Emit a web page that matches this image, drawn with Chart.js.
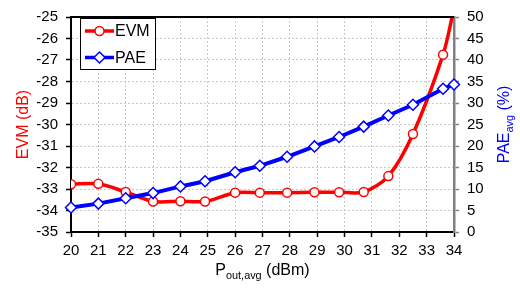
<!DOCTYPE html>
<html>
<head>
<meta charset="utf-8">
<script src="https://cdn.jsdelivr.net/npm/chart.js@4.4.0/dist/chart.umd.min.js"></script>
<style>
  html, body { margin: 0; padding: 0; background: #fff; }
  #wrap { width: 520px; height: 288px; }
</style>
</head>
<body>
<div id="wrap"><canvas id="myChart" width="520" height="288"></canvas></div>
<script>
var pout = [20, 21, 22, 23, 24, 24.9, 26, 26.9, 27.9, 28.9, 29.8, 30.7, 31.6, 32.5, 33.6, 34];
var evm  = [-32.78, -32.76, -33.14, -33.58, -33.57, -33.58, -33.17, -33.17, -33.17, -33.15, -33.15, -33.14, -32.4, -30.44, -26.75, -24.6];
var pae  = [5.7, 6.6, 7.85, 9.05, 10.6, 11.8, 13.9, 15.4, 17.5, 19.9, 22.1, 24.5, 27.1, 29.6, 33.3, 34.3];
var seriesNames = ["EVM", "PAE"];

var FONT = "'Liberation Sans', Arial, sans-serif";

function xy(xs, ys) {
  return xs.map(function (x, i) { return {x: x, y: ys[i]}; });
}

// draw text with a subscript part, centred at (0,0) in the current transform
function subText(ctx, parts, size) {
  var w = 0;
  parts.forEach(function (p) {
    ctx.font = (p.sub ? size * 0.68 : size) + "px " + FONT;
    p.w = ctx.measureText(p.t).width;
    w += p.w;
  });
  var x = -w / 2;
  ctx.textBaseline = "middle";
  ctx.textAlign = "left";
  parts.forEach(function (p) {
    ctx.font = (p.sub ? size * 0.68 : size) + "px " + FONT;
    ctx.fillText(p.t, x, p.sub ? size * 0.3 : 0);
    x += p.w;
  });
}

var decor = {
  id: 'decor',
  afterDraw: function (chart) {
    var ctx = chart.ctx, a = chart.chartArea;
    ctx.save();
    // top frame line
    ctx.strokeStyle = "#000";
    ctx.lineWidth = 2;
    ctx.beginPath();
    ctx.moveTo(a.left - 1, a.top);
    ctx.lineTo(a.right, a.top);
    ctx.stroke();

    // axis titles
    var cy = (a.top + a.bottom) / 2;
    ctx.fillStyle = "#ff0000";
    ctx.save();
    ctx.translate(24, cy);
    ctx.rotate(-Math.PI / 2);
    subText(ctx, [{t: "EVM (dB)"}], 16);
    ctx.restore();

    ctx.fillStyle = "#0000ff";
    ctx.save();
    ctx.translate(505, cy);
    ctx.rotate(-Math.PI / 2);
    subText(ctx, [{t: "PAE"}, {t: "avg", sub: true}, {t: " (%)"}], 16);
    ctx.restore();

    ctx.fillStyle = "#000";
    ctx.save();
    ctx.translate((a.left + a.right) / 2, 271);
    subText(ctx, [{t: "P"}, {t: "out,avg", sub: true}, {t: " (dBm)"}], 16);
    ctx.restore();

    // legend box
    ctx.fillStyle = "#fff";
    ctx.fillRect(80.5, 18.5, 75, 51);
    ctx.strokeStyle = "#000";
    ctx.lineWidth = 1;
    ctx.strokeRect(80.5, 18.5, 75, 51);
    var items = [
      {name: seriesNames[0], color: "#ff0000", y: 31, style: "circle"},
      {name: seriesNames[1], color: "#0000ff", y: 57.5, style: "diamond"}
    ];
    items.forEach(function (it) {
      ctx.strokeStyle = it.color;
      ctx.lineWidth = 3.5;
      ctx.beginPath();
      ctx.moveTo(85, it.y);
      ctx.lineTo(114, it.y);
      ctx.stroke();
      ctx.fillStyle = "#fff";
      ctx.lineWidth = 1.5;
      ctx.beginPath();
      if (it.style === "circle") {
        ctx.arc(99.5, it.y, 4.5, 0, Math.PI * 2);
      } else {
        ctx.moveTo(99.5, it.y - 5.5);
        ctx.lineTo(105, it.y);
        ctx.lineTo(99.5, it.y + 5.5);
        ctx.lineTo(94, it.y);
        ctx.closePath();
      }
      ctx.fill();
      ctx.stroke();
      ctx.fillStyle = "#000";
      ctx.font = "16px " + FONT;
      ctx.textAlign = "left";
      ctx.textBaseline = "middle";
      ctx.fillText(it.name, 115, it.y + 1);
    });
    ctx.restore();
  }
};

new Chart(document.getElementById("myChart"), {
  type: 'line',
  data: {
    datasets: [{
      label: seriesNames[1],
      data: xy(pout, pae),
      yAxisID: 'y2',
      borderColor: "#0000ff",
      borderWidth: 4,
      tension: 0,
      pointStyle: 'rectRot',
      pointRadius: 5.5,
      pointBackgroundColor: "#fff",
      pointBorderColor: "#0000ff",
      pointBorderWidth: 1.5,
      clip: false,
      order: 0
    }, {
      label: seriesNames[0],
      data: xy(pout, evm),
      yAxisID: 'y',
      borderColor: "#ff0000",
      borderWidth: 3.5,
      tension: 0.3,
      pointStyle: 'circle',
      pointRadius: 4.5,
      pointBackgroundColor: "#fff",
      pointBorderColor: "#ff0000",
      pointBorderWidth: 1.5,
      order: 1
    }]
  },
  options: {
    responsive: false,
    animation: false,
    events: [],
    layout: {padding: {top: 11, left: 0, right: 0, bottom: 0}},
    plugins: {legend: {display: false}, tooltip: {enabled: false}},
    scales: {
      x: {
        type: 'linear',
        min: 20, max: 34,
        afterFit: function (s) { s.height = 56; },
        ticks: {stepSize: 1, color: "#000", font: {family: FONT, size: 15}, padding: 5, maxRotation: 0},
        grid: {color: "#c8c8c8", tickColor: "#000", tickLength: 5, tickWidth: 1.5, tickBorderDash: []},
        border: {color: "#000", width: 2, dash: [2, 2]}
      },
      y: {
        position: 'left',
        min: -35, max: -25,
        afterFit: function (s) { s.width = 71; },
        ticks: {stepSize: 1, color: "#000", font: {family: FONT, size: 15}, padding: 8},
        grid: {color: "#c8c8c8", tickColor: "#000", tickLength: 5, tickWidth: 1.5, tickBorderDash: []},
        border: {color: "#000", width: 2, dash: [2, 2]}
      },
      y2: {
        position: 'right',
        min: 0, max: 50,
        afterFit: function (s) { s.width = 66; },
        ticks: {stepSize: 5, color: "#000", font: {family: FONT, size: 15}, padding: 8},
        grid: {drawOnChartArea: false, tickColor: "#808080", tickLength: 5, tickWidth: 1.5},
        border: {color: "#808080", width: 2.5}
      }
    }
  },
  plugins: [decor]
});
</script>
</body>
</html>
